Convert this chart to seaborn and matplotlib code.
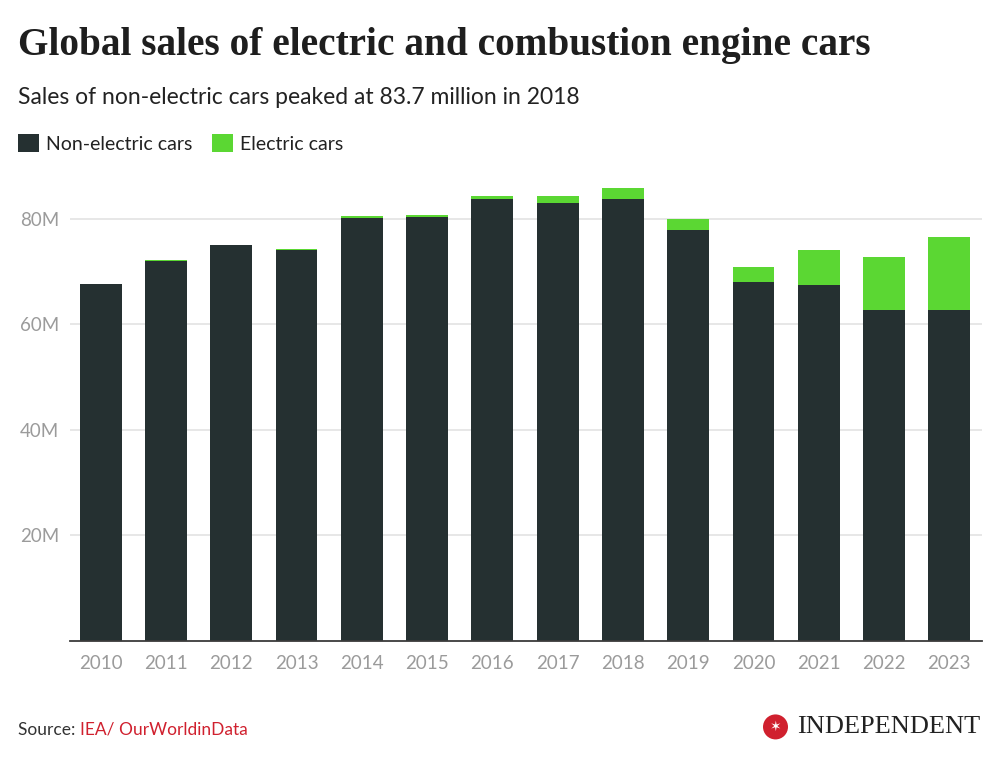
import pandas as pd
import numpy as np
import matplotlib.pyplot as plt
from matplotlib.patches import Patch, Ellipse
import seaborn as sns

# values, in millions
years = ['2010', '2011', '2012', '2013', '2014', '2015', '2016',
         '2017', '2018', '2019', '2020', '2021', '2022', '2023']
non_electric = [67.6, 72.0, 74.9, 74.1, 80.1, 80.2, 83.6,
                83.0, 83.7, 77.8, 67.9, 67.4, 62.6, 62.7]
electric = [0.02, 0.06, 0.12, 0.2, 0.32, 0.55, 0.75,
            1.2, 2.1, 2.1, 3.0, 6.6, 10.2, 13.8]
ytick_vals = [20, 40, 60, 80]
ytick_labels = ['20M', '40M', '60M', '80M']

DARK = '#253031'
GREEN = '#5bd733'
GREY = '#9b9b9b'
RED = '#d0202e'

df = pd.DataFrame({'year': years, 'non_electric': non_electric, 'electric': electric})
df['total'] = df['non_electric'] + df['electric']

sns.set_theme(style='white')
plt.rcParams['font.family'] = ['Lato', 'DejaVu Sans']

fig = plt.figure(figsize=(10, 7.58), dpi=100)
ax = fig.add_axes([0.070, 0.1544, 0.912, 0.627])

# stacked bars: total in green, non-electric drawn over it
sns.barplot(data=df, x='year', y='total', color=GREEN, saturation=1,
            width=0.64, linewidth=0, ax=ax, zorder=3)
sns.barplot(data=df, x='year', y='non_electric', color=DARK, saturation=1,
            width=0.64, linewidth=0, ax=ax, zorder=4)

ax.set_xlim(-0.47, 13.5)
ax.set_ylim(0, 90)
ax.set_yticks(ytick_vals)
ax.set_yticklabels(ytick_labels)
ax.set_xlabel('')
ax.set_ylabel('')
ax.yaxis.grid(True, color='#e3e3e3', linewidth=1.2, zorder=0)
ax.tick_params(axis='both', length=0, labelsize=13.5, labelcolor=GREY)
ax.tick_params(axis='y', pad=8)
ax.tick_params(axis='x', pad=10)
for s in ['top', 'right', 'left']:
    ax.spines[s].set_visible(False)
ax.spines['bottom'].set_color('#3a3a3a')
ax.spines['bottom'].set_linewidth(1.3)
ax.spines['bottom'].set_zorder(5)

# titles
fig.text(0.018, 0.94, 'Global sales of electric and combustion engine cars',
         family=['Liberation Serif', 'DejaVu Serif'], fontweight='bold',
         fontsize=28.3, color='#1e1e1e', ha='left', va='center')
fig.text(0.018, 0.872, 'Sales of non-electric cars peaked at 83.7 million in 2018',
         fontsize=16.5, color='#222222', ha='left', va='center')

# legend
handles = [Patch(facecolor=DARK, edgecolor='none', label='Non-electric cars'),
           Patch(facecolor=GREEN, edgecolor='none', label='Electric cars')]
fig.legend(handles=handles, loc='center left', bbox_to_anchor=(0.0, 0.811),
           ncol=2, frameon=False, fontsize=14, handlelength=1.1, handleheight=1.1,
           handletextpad=0.35, columnspacing=1.0, labelcolor='#222222')

# footer
src = fig.text(0.018, 0.037, 'Source: ', fontsize=12.5, color='#333333',
               ha='left', va='center')
fig.canvas.draw()
bb = src.get_window_extent()
x1 = fig.transFigure.inverted().transform((bb.x1, bb.y0))[0]
fig.text(x1, 0.037, 'IEA/ OurWorldinData', fontsize=12.5, color=RED,
         ha='left', va='center')

fig.patches.append(Ellipse((0.7755, 0.041), 0.025, 0.025 * 1000 / 758,
                           transform=fig.transFigure, facecolor=RED,
                           edgecolor='none', figure=fig))
fig.text(0.7755, 0.041, '\u2736', fontsize=10, color='white', ha='center',
         va='center', family='DejaVu Sans')
fig.text(0.980, 0.041, 'INDEPENDENT', family=['Liberation Serif', 'DejaVu Serif'],
         fontsize=19, color='#222222', ha='right', va='center')

fig.savefig('out.png', dpi=100, facecolor='white')
